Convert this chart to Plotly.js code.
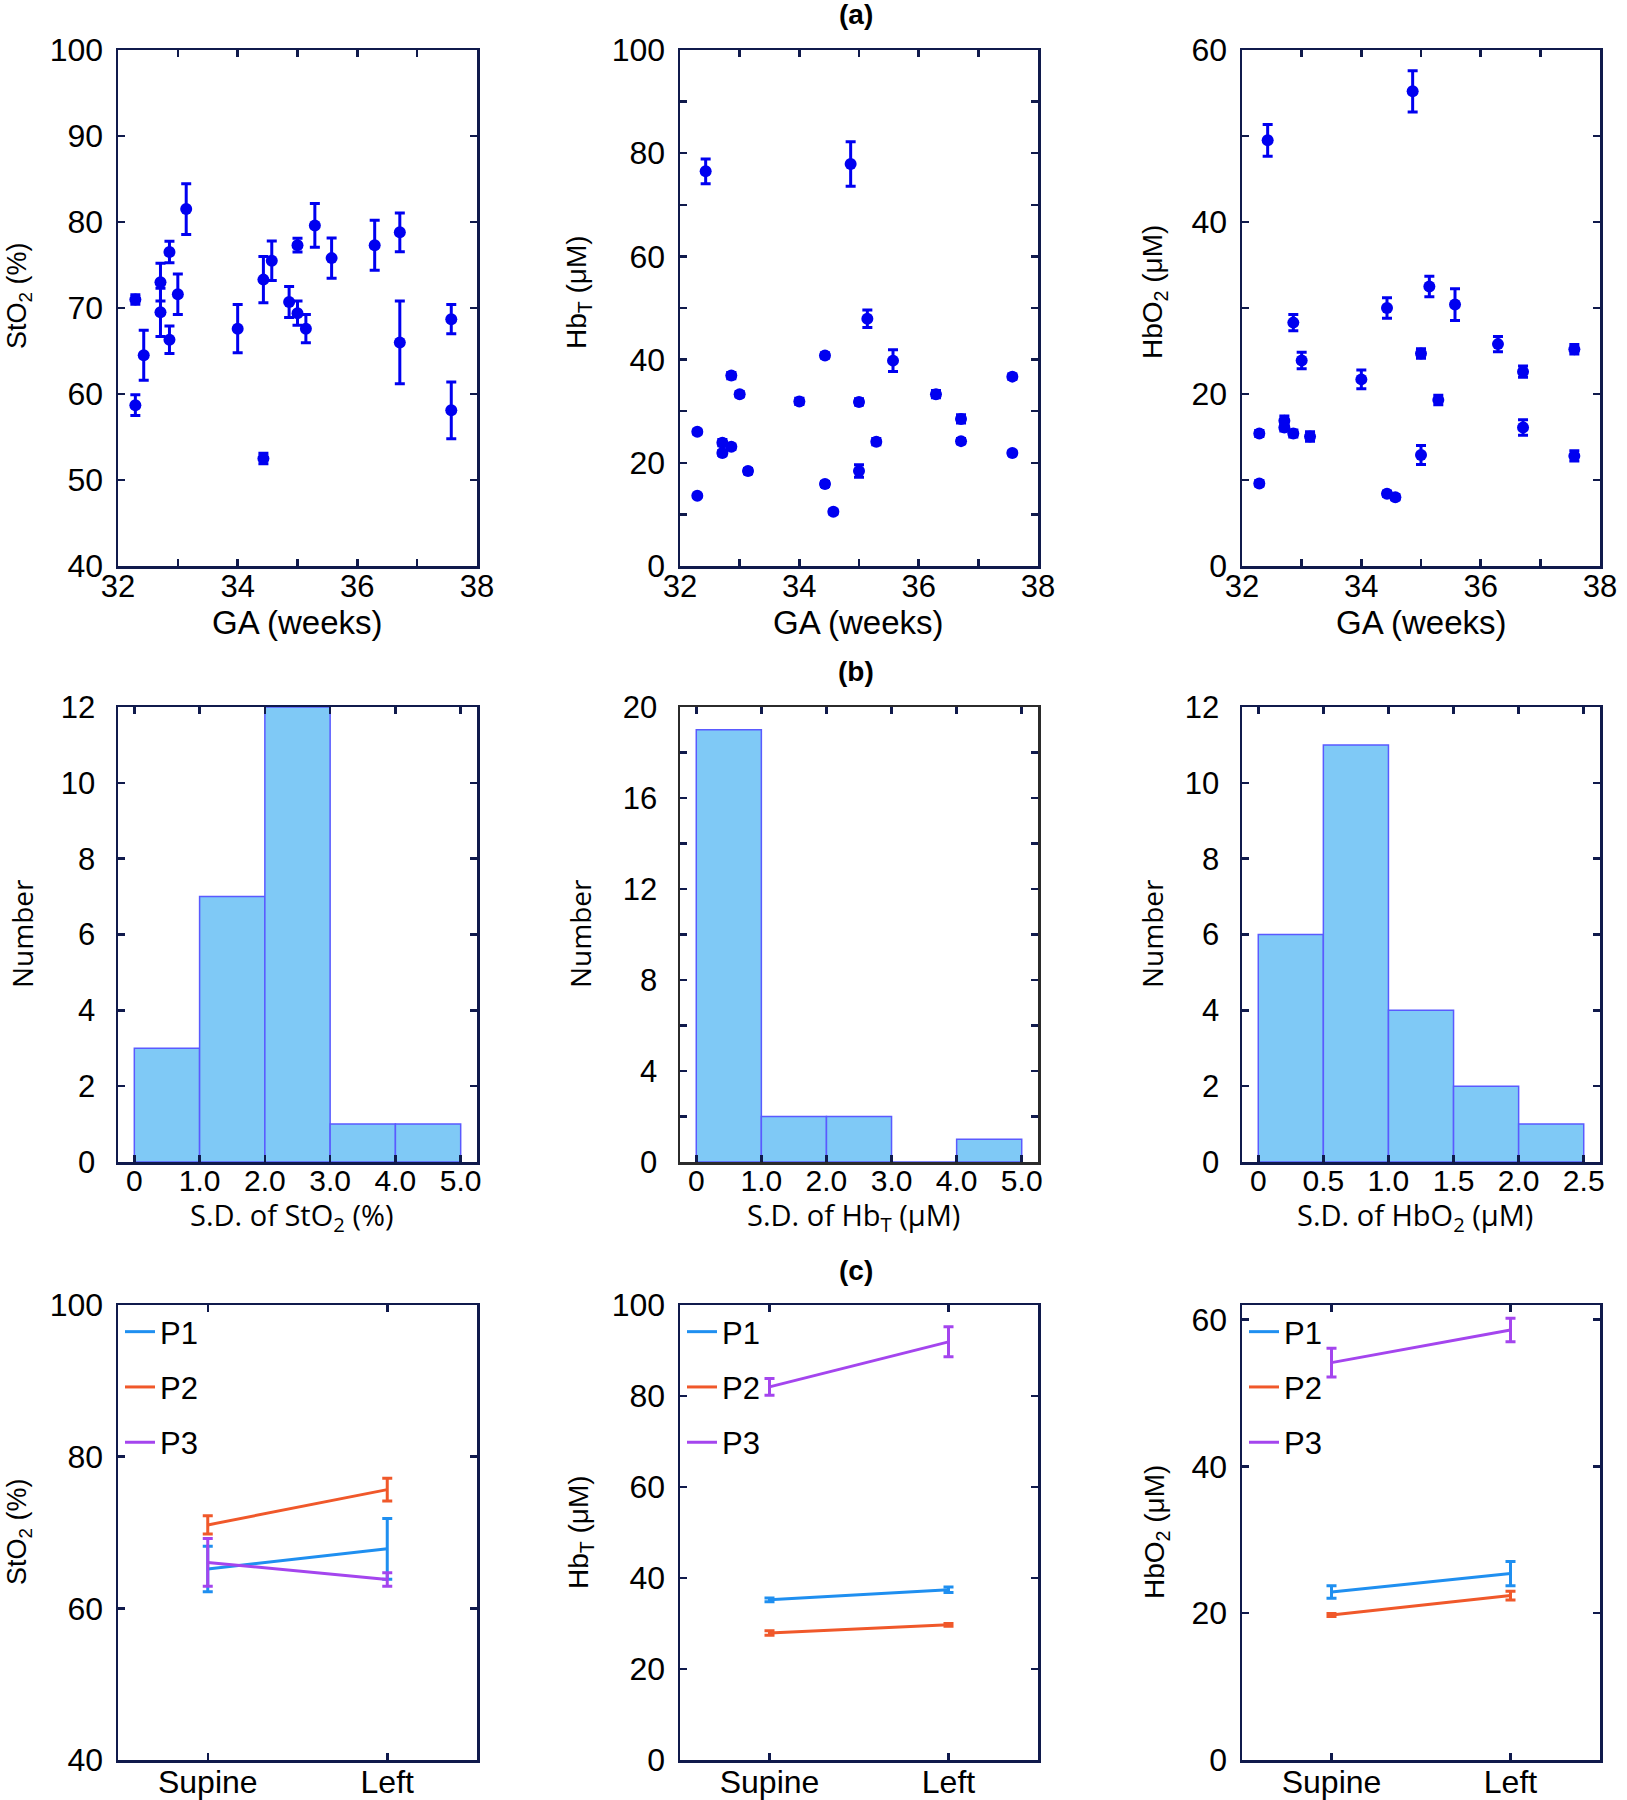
<!DOCTYPE html>
<html>
<head>
<meta charset="utf-8">
<script src="https://cdn.plot.ly/plotly-3.0.1.min.js"></script>
<style>body{margin:0;background:#fff}#chart{width:1627px;height:1800px}</style>
</head>
<body>
<div id="chart"></div>
<script>
// ---------------- DATA ----------------
// (a) GA vs parameters
const gaStO2 = [32.29, 32.29, 32.43, 32.71, 32.71, 32.86, 32.86, 33.00, 33.14, 34.00, 34.43, 34.43, 34.57, 34.86, 35.00, 35.00, 35.14, 35.29, 35.57, 36.29, 36.71, 36.71, 37.57, 37.57];
const stO2 = [71.0, 58.7, 64.5, 73.0, 69.5, 76.5, 66.3, 71.6, 81.5, 67.6, 73.3, 52.5, 75.5, 70.7, 77.3, 69.4, 67.6, 79.6, 75.8, 77.3, 78.8, 66.0, 68.7, 58.1];
const stO2Sd = [0.55, 1.2, 2.9, 2.2, 2.8, 1.25, 1.6, 2.35, 2.95, 2.8, 2.7, 0.6, 2.3, 1.8, 0.8, 1.4, 1.65, 2.55, 2.35, 2.9, 2.25, 4.8, 1.7, 3.3];

const gaHbT = [32.43, 32.29, 32.29, 32.71, 32.71, 32.86, 32.86, 33.00, 33.14, 34.00, 34.43, 34.43, 34.57, 34.86, 35.00, 35.00, 35.14, 35.29, 35.57, 36.29, 36.71, 36.71, 37.57, 37.57];
const hbT = [76.5, 26.0, 13.6, 23.9, 21.9, 36.9, 23.1, 33.3, 18.4, 31.9, 40.8, 15.9, 10.5, 77.9, 31.8, 18.4, 47.9, 24.1, 39.8, 33.3, 28.5, 24.2, 36.7, 21.9];
const hbTSd = [2.4, 0.4, 0.3, 0.6, 0.5, 0.6, 0.5, 0.5, 0.5, 0.6, 0.5, 0.5, 0.4, 4.3, 0.6, 1.2, 1.7, 0.6, 2.1, 0.7, 0.8, 0.5, 0.5, 0.4];

const gaHbO2 = [32.29, 32.29, 32.43, 32.71, 32.71, 32.86, 32.86, 33.00, 33.14, 34.00, 34.43, 34.43, 34.57, 34.86, 35.00, 35.00, 35.14, 35.29, 35.57, 36.29, 36.71, 36.71, 37.57, 37.57];
const hbO2 = [15.4, 9.6, 49.5, 16.9, 16.1, 28.3, 15.4, 23.9, 15.05, 21.7, 30.0, 8.4, 8.0, 55.2, 24.7, 12.9, 32.5, 19.3, 30.4, 25.8, 22.6, 16.1, 25.2, 12.8];
const hbO2Sd = [0.35, 0.3, 1.85, 0.55, 0.4, 0.95, 0.4, 0.95, 0.55, 1.1, 1.2, 0.3, 0.3, 2.4, 0.55, 1.1, 1.2, 0.55, 1.85, 0.9, 0.65, 0.9, 0.55, 0.6];

// (b) histograms of S.D.
const sdBinStartStO2 = [0, 1, 2, 3, 4];
const sdCountStO2 = [3, 7, 12, 1, 1];
const sdBinStartHbT = [0, 1, 2, 3, 4];
const sdCountHbT = [19, 2, 2, 0, 1];
const sdBinStartHbO2 = [0, 0.5, 1.0, 1.5, 2.0];
const sdCountHbO2 = [6, 11, 4, 2, 1];
const sdTickValsA = [0, 1, 2, 3, 4, 5];
const sdTickTextA = ["0", "1.0", "2.0", "3.0", "4.0", "5.0"];
const sdTickValsB = [0, 0.5, 1.0, 1.5, 2.0, 2.5];
const sdTickTextB = ["0", "0.5", "1.0", "1.5", "2.0", "2.5"];

// (c) positions
const positions = ["Supine", "Left"];
const patients = ["P1", "P2", "P3"];
const posStO2 = [[65.2, 67.85], [71.0, 75.65], [66.05, 63.8]];
const posStO2Sd = [[3.0, 4.0], [1.2, 1.5], [3.15, 0.9]];
const posHbT = [[35.2, 37.4], [27.9, 29.7], [82.0, 91.9]];
const posHbTSd = [[0.4, 0.6], [0.5, 0.3], [1.85, 3.3]];
const posHbO2 = [[22.9, 25.4], [19.75, 22.4], [54.15, 58.6]];
const posHbO2Sd = [[0.85, 1.65], [0.2, 0.6], [1.95, 1.6]];

// ---------------- STYLE ----------------
const W = 1627, H = 1800;
const NAVY = '#101a4c';
const GRAY = '#2b2b2b';
const BLUE = '#0000f0';
const BARFILL = '#7fc9f6';
const BAREDGE = '#5a5aff';
const PCOL = ['#1f8ff0', '#f0582a', '#a445ee'];
const ARIAL = 'Liberation Sans, Arial, sans-serif';
const OPEN = 'Open Sans, Noto Sans, sans-serif';

const cols = [[118, 477], [680, 1038], [1242, 1600]];
const rows = [[50, 566], [707, 1162], [1305, 1760]];
const dxf = c => [cols[c][0] / W, cols[c][1] / W];
const dyf = r => [1 - rows[r][1] / H, 1 - rows[r][0] / H];
const px = v => v / W;
const py = v => 1 - v / H;

function axis(frame, extra) {
  return Object.assign({
    showline: true, linecolor: frame, linewidth: 2.5, mirror: 'ticks',
    ticks: 'inside', ticklen: 7, tickwidth: 2.5, tickcolor: NAVY,
    showgrid: false, zeroline: false, fixedrange: true, automargin: false,
    tickfont: {family: ARIAL, size: 32, color: '#000'}
  }, extra);
}
const minorTicks = d => ({dtick: d, ticks: 'inside', ticklen: 7, tickwidth: 2.5, tickcolor: NAVY, showgrid: false});

const traces = [];
// row (a)
[[gaStO2, stO2, stO2Sd], [gaHbT, hbT, hbTSd], [gaHbO2, hbO2, hbO2Sd]].forEach((d, i) => {
  traces.push({
    type: 'scatter', mode: 'markers', x: d[0], y: d[1],
    xaxis: 'x' + (i + 1), yaxis: 'y' + (i + 1), showlegend: false,
    marker: {color: BLUE, size: 12},
    error_y: {type: 'data', array: d[2], visible: true, color: BLUE, thickness: 3, width: 5}
  });
});
// row (b)
[[sdBinStartStO2, sdCountStO2, 1], [sdBinStartHbT, sdCountHbT, 1], [sdBinStartHbO2, sdCountHbO2, 0.5]].forEach((d, i) => {
  traces.push({
    type: 'bar', x: d[0], y: d[1], offset: 0, width: d[2],
    xaxis: 'x' + (i + 4), yaxis: 'y' + (i + 4), showlegend: false,
    marker: {color: BARFILL, line: {color: BAREDGE, width: 1.5}}
  });
});
// row (c)
[[posStO2, posStO2Sd], [posHbT, posHbTSd], [posHbO2, posHbO2Sd]].forEach((d, i) => {
  patients.forEach((p, j) => {
    traces.push({
      type: 'scatter', mode: 'lines', x: positions, y: d[0][j], name: p,
      xaxis: 'x' + (i + 7), yaxis: 'y' + (i + 7),
      legend: i === 0 ? 'legend' : 'legend' + (i + 1), legendgroup: 'g' + i + j,
      line: {color: PCOL[j], width: 3},
      error_y: {type: 'data', array: d[1][j], visible: true, color: PCOL[j], thickness: 3, width: 5}
    });
  });
});

const xa = {ticklabelstandoff: -9, tickfont: {family: ARIAL, size: 31}};
const ya = {ticklabelstandoff: 6};
const histX = {ticklabelstandoff: -10, tickfont: {family: ARIAL, size: 30}};
const histY = {ticklabelstandoff: 14, tickfont: {family: ARIAL, size: 31}};
const catX = {type: 'category', categoryorder: 'array', categoryarray: positions, range: [-0.5, 1.5], ticklabelstandoff: -8, tickfont: {family: ARIAL, size: 32}};

const layout = {
  width: W, height: H, margin: {l: 0, r: 0, t: 0, b: 0},
  paper_bgcolor: '#fff', plot_bgcolor: 'rgba(0,0,0,0)', showlegend: true,
  font: {family: ARIAL, color: '#000'},
  // row a
  xaxis: axis(NAVY, Object.assign({domain: dxf(0), anchor: 'y', range: [32, 38], tick0: 32, dtick: 2, minor: minorTicks(1)}, xa)),
  yaxis: axis(NAVY, Object.assign({domain: dyf(0), anchor: 'x', range: [40, 100], dtick: 10}, ya)),
  xaxis2: axis(NAVY, Object.assign({domain: dxf(1), anchor: 'y2', range: [32, 38], tick0: 32, dtick: 2, minor: minorTicks(1)}, xa)),
  yaxis2: axis(NAVY, Object.assign({domain: dyf(0), anchor: 'x2', range: [0, 100], dtick: 20, minor: minorTicks(10)}, ya)),
  xaxis3: axis(NAVY, Object.assign({domain: dxf(2), anchor: 'y3', range: [32, 38], tick0: 32, dtick: 2, minor: minorTicks(1)}, xa)),
  yaxis3: axis(NAVY, Object.assign({domain: dyf(0), anchor: 'x3', range: [0, 60], dtick: 20, minor: minorTicks(10)}, ya)),
  // row b
  xaxis4: axis(NAVY, Object.assign({domain: dxf(0), anchor: 'y4', range: [-0.25, 5.25], tickmode: 'array', tickvals: sdTickValsA, ticktext: sdTickTextA}, histX)),
  yaxis4: axis(NAVY, Object.assign({domain: dyf(1), anchor: 'x4', range: [0, 12], dtick: 2}, histY)),
  xaxis5: axis(GRAY, Object.assign({domain: dxf(1), anchor: 'y5', range: [-0.25, 5.25], tickmode: 'array', tickvals: sdTickValsA, ticktext: sdTickTextA}, histX)),
  yaxis5: axis(GRAY, Object.assign({domain: dyf(1), anchor: 'x5', range: [0, 20], dtick: 4, minor: minorTicks(2)}, histY)),
  xaxis6: axis(NAVY, Object.assign({domain: dxf(2), anchor: 'y6', range: [-0.125, 2.625], tickmode: 'array', tickvals: sdTickValsB, ticktext: sdTickTextB}, histX)),
  yaxis6: axis(NAVY, Object.assign({domain: dyf(1), anchor: 'x6', range: [0, 12], dtick: 2}, histY)),
  // row c
  xaxis7: axis(NAVY, Object.assign({domain: dxf(0), anchor: 'y7'}, catX)),
  yaxis7: axis(NAVY, Object.assign({domain: dyf(2), anchor: 'x7', range: [40, 100], dtick: 20}, ya)),
  xaxis8: axis(NAVY, Object.assign({domain: dxf(1), anchor: 'y8'}, catX)),
  yaxis8: axis(NAVY, Object.assign({domain: dyf(2), anchor: 'x8', range: [0, 100], dtick: 20}, ya)),
  xaxis9: axis(NAVY, Object.assign({domain: dxf(2), anchor: 'y9'}, catX)),
  yaxis9: axis(NAVY, Object.assign({domain: dyf(2), anchor: 'x9', range: [0, 62], dtick: 20}, ya)),
  annotations: [],
  bargap: 0
};

function legendAt(x) {
  return {x: px(x), y: py(1305), xanchor: 'left', yanchor: 'top', bgcolor: 'rgba(0,0,0,0)', borderwidth: 0,
    font: {family: ARIAL, size: 31, color: '#000'}, traceorder: 'grouped', tracegroupgap: 12, itemwidth: 30};
}
layout.legend = legendAt(cols[0][0] + 2);
layout.legend2 = legendAt(cols[1][0] + 2);
layout.legend3 = legendAt(cols[2][0] + 2);

function ann(text, x, y, size, opts) {
  layout.annotations.push(Object.assign({
    text: text, xref: 'paper', yref: 'paper', x: px(x), y: py(y), xanchor: 'center', yanchor: 'middle',
    showarrow: false, borderpad: 0, font: {family: ARIAL, size: size, color: '#000'}
  }, opts || {}));
}
// panel letters
ann('<b>(a)</b>', 856, 15, 28);
ann('<b>(b)</b>', 856, 672, 28);
ann('<b>(c)</b>', 856, 1270, 28);
// row a titles
const mid = c => (cols[c][0] + cols[c][1]) / 2;
[0, 1, 2].forEach(c => ann('GA (weeks)', mid(c), 622, 33));
ann('StO<sub>2</sub> (%)', 19, 296, 27, {textangle: -90});
ann('Hb<sub>T</sub> (μM)', 578, 292, 28, {textangle: -90});
ann('HbO<sub>2</sub> (μM)', 1154, 292, 28, {textangle: -90});
// row b titles
const openFont = s => ({font: {family: OPEN, size: s, color: '#000'}});
ann('S.D. of StO<sub>2</sub> (%)', mid(0) - 6, 1216, 29, openFont(29));
ann('S.D. of Hb<sub>T</sub> (μM)', mid(1) - 6, 1216, 29, openFont(29));
ann('S.D. of HbO<sub>2</sub> (μM)', mid(2) - 6, 1216, 29, openFont(29));
ann('Number', 22, 934, 28, Object.assign({textangle: -90}, openFont(28)));
ann('Number', 580, 934, 28, Object.assign({textangle: -90}, openFont(28)));
ann('Number', 1152, 934, 28, Object.assign({textangle: -90}, openFont(28)));
// row c titles
ann('StO<sub>2</sub> (%)', 19, 1532, 27, {textangle: -90});
ann('Hb<sub>T</sub> (μM)', 580, 1532, 28, {textangle: -90});
ann('HbO<sub>2</sub> (μM)', 1156, 1532, 28, {textangle: -90});

Plotly.newPlot('chart', traces, layout, {staticPlot: true, displayModeBar: false});
</script>
</body>
</html>
